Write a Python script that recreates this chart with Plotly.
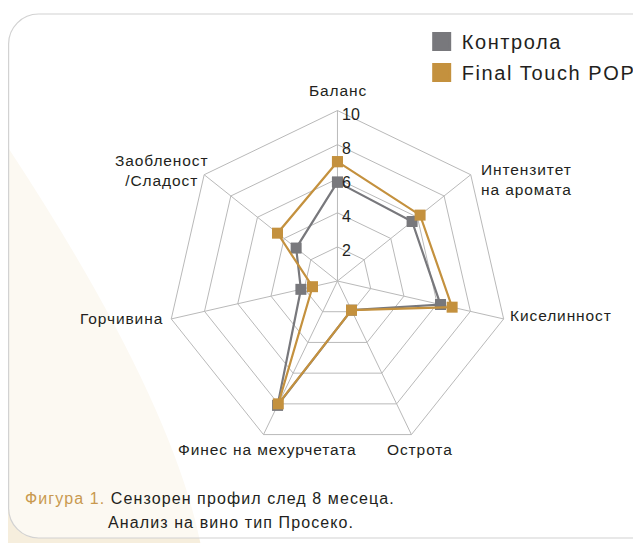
import plotly.graph_objects as go

# page body has an 8px margin: the figure is placed at (8, 8) in the window
OFF = 8
W, H = 641 - OFF, 543 - OFF

categories = ["Баланс", "Интензитет на аромата", "Киселинност", "Острота",
              "Финес на мехурчетата", "Горчивина", "Заобленост /Сладост"]
category_labels = ["Баланс", "Интензитет<br>на аромата", "Киселинност", "Острота",
                   "Финес на мехурчетата", "Горчивина", "Заобленост<br>/Сладост"]
control = [5.8, 5.6, 6.2, 1.9, 8.1, 2.2, 3.1]
final_touch = [7.0, 6.2, 6.9, 1.9, 8.0, 1.5, 4.5]
series_names = ["Контрола", "Final Touch POP"]
radial_ticks = [2, 4, 6, 8, 10]
r_max = 10

GRAY = "#78787c"
GOLD = "#c4913e"
GRID = "#b9b9b9"
TXT = "#231f20"

# label placement (screen px): x, y, xanchor, align
label_pos = [
    (339, 91, "center", "center"),
    (480, 179, "left", "left"),
    (510, 315, "left", "left"),
    (421, 449, "center", "center"),
    (268.5, 449, "center", "center"),
    (165, 318, "right", "right"),
    (162, 170, "center", "center"),
]


def px(x):  # screen x -> paper
    return (x - OFF) / W


def py(y):  # screen y -> paper
    return 1 - (y - OFF) / H


def close(vals):
    return vals + vals[:1]


def spaced(t, s):
    return f"<span style='letter-spacing:{s}px'>{t}</span>"


fig = go.Figure()
for name, vals, col in [(series_names[0], control, GRAY), (series_names[1], final_touch, GOLD)]:
    fig.add_trace(go.Scatterpolar(
        r=close(vals), theta=close(categories), mode="lines+markers",
        line=dict(color=col, width=2.2),
        marker=dict(symbol="square", size=11, color=col),
        name=name, showlegend=False, cliponaxis=False,
    ))
# legend entries (squares only)
for i, (name, col) in enumerate([(series_names[0], GRAY), (series_names[1], GOLD)]):
    fig.add_trace(go.Scatterpolar(
        r=[None], theta=[categories[0]], mode="markers",
        marker=dict(symbol="square", size=16, color=col, line=dict(color=col, width=3)),
        name=spaced(name, 1.6), showlegend=True, legendgroup=f"g{i}",
    ))


def p(x, y):
    return f"{px(x):.5f},{py(y):.5f}"


tri = f"M {p(-5,128)} Q {p(172,392)} {p(202,548)} L {p(-5,548)} Z"
L, T, R, B, rad = 8.6, 14, 700, 538, 30
k = 0.55 * rad
rect = (f"M {p(L, T+rad)} C {p(L, T+rad-k)} {p(L+rad-k, T)} {p(L+rad, T)} "
        f"L {p(R, T)} L {p(R, B)} L {p(L+rad, B)} "
        f"C {p(L+rad-k, B)} {p(L, B-rad+k)} {p(L, B-rad)} Z")
shapes = [
    dict(type="path", path=tri, xref="paper", yref="paper", fillcolor="#f6eedd",
         line=dict(width=0), layer="below"),
    dict(type="path", path=rect, xref="paper", yref="paper",
         fillcolor="rgba(255,255,255,0.62)", line=dict(color="#d2d2d2", width=1.2),
         layer="below"),
]

cx, cy, Rp = 338.5, 281, 171

annotations = []
for lab, (x, y, xa, al) in zip(category_labels, label_pos):
    annotations.append(dict(
        x=px(x), y=py(y), xref="paper", yref="paper", xanchor=xa, yanchor="middle",
        align=al, showarrow=False, text=spaced(lab, 0.9),
        font=dict(size=15.5, color=TXT)))
# radial tick labels, to the right of the Баланс spoke
for v in radial_ticks:
    annotations.append(dict(
        x=px(cx + 2.5), y=py(cy - Rp * v / r_max), xref="paper", yref="paper",
        xanchor="left", yanchor="middle", yshift=-4, showarrow=False,
        text=str(v), font=dict(size=16, color=TXT)))
annotations += [
    dict(x=px(23), y=py(498), xref="paper", yref="paper", xanchor="left",
         yanchor="middle", showarrow=False,
         text=spaced("<span style='color:#c9994f'>Фигура 1.</span> Сензорен профил след 8 месеца.", 1.1),
         font=dict(size=16, color=TXT)),
    dict(x=px(106), y=py(522), xref="paper", yref="paper", xanchor="left",
         yanchor="middle", showarrow=False,
         text=spaced("Анализ на вино тип Просеко.", 1.1),
         font=dict(size=16, color=TXT)),
]

fig.update_layout(
    width=W, height=H,
    margin=dict(l=0, r=0, t=0, b=0),
    paper_bgcolor="white",
    font=dict(family="Liberation Sans, Arial, sans-serif", color=TXT, size=14),
    shapes=shapes,
    polar=dict(
        domain=dict(x=[px(cx - Rp), px(cx + Rp)], y=[py(cy + Rp), py(cy - Rp)]),
        bgcolor="rgba(0,0,0,0)",
        gridshape="linear",
        angularaxis=dict(direction="clockwise", rotation=90, showline=True,
                         linecolor=GRID, linewidth=1, gridcolor=GRID, gridwidth=1,
                         ticks="", showticklabels=False,
                         categoryorder="array", categoryarray=categories),
        radialaxis=dict(range=[0, r_max], tickvals=radial_ticks, angle=90,
                        showline=False, gridcolor=GRID, gridwidth=1, ticks="",
                        showticklabels=False),
    ),
    legend=dict(x=px(423), y=py(22), xanchor="left", yanchor="top",
                font=dict(size=20, color=TXT), bgcolor="rgba(0,0,0,0)",
                itemsizing="trace", traceorder="grouped", tracegroupgap=2),
    annotations=annotations,
)

fig.write_html("out.html")
